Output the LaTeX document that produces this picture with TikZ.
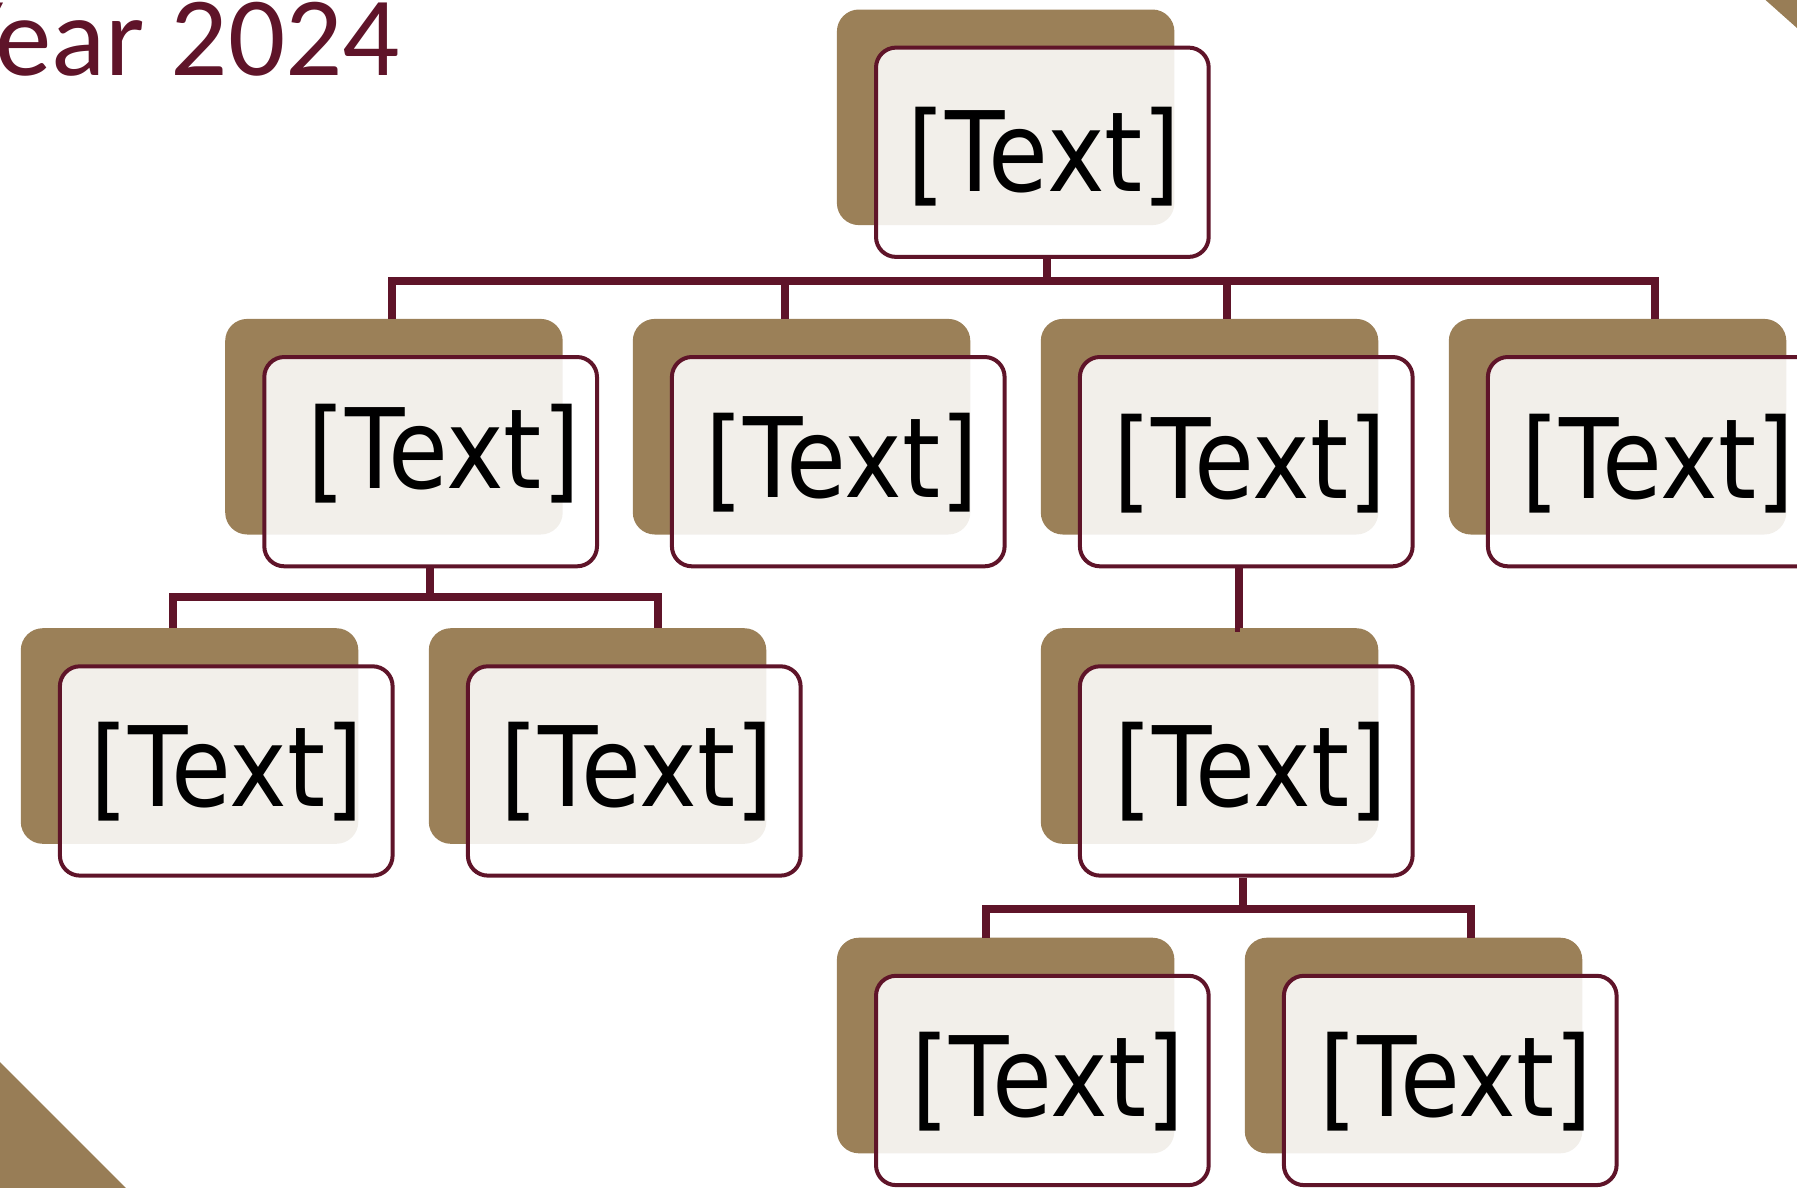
\documentclass[tikz,border=0pt]{standalone}
\usepackage{fontspec}
\usepackage{graphicx}
\usetikzlibrary{calc}
\newfontfamily\boxfont{DejaVu Sans}
\newfontfamily\titlefont{Carlito}
\definecolor{brownbox}{RGB}{155,128,88}
\definecolor{wine}{RGB}{95,20,41}
\definecolor{tri}{RGB}{152,125,86}
\tikzset{
  backbox/.style={rectangle, rounded corners=22pt, fill=brownbox, draw=none,
    minimum width=337.5pt, minimum height=215.6pt, inner sep=0pt, anchor=north west},
  frontbox/.style={rectangle, rounded corners=20pt, draw=wine, line width=4pt,
    fill=white, fill opacity=0.88, minimum width=332.7pt, minimum height=209.3pt, inner sep=0pt},
  boxtext/.style={anchor=base, inner sep=0pt, text=black,
    font=\boxfont\fontsize{111}{111}\selectfont},
  conn/.style={draw=wine, line width=8pt, line join=miter, line cap=butt},
  titletext/.style={anchor=base east, inner sep=0pt, text=wine,
    font=\titlefont\fontsize{113}{113}\selectfont},
}
\newcommand\orgbox[5]{%
  \node[backbox] (#1b) at (#2,#3) {};
  \node[frontbox] (#1w) at ($(#1b.north west)+(205.65,142.95)$) {};
  \node[boxtext] (#1t) at ($(#1w.center)+(#4,#5+34.8)$) {\scalebox{0.877}[1]{[Text]}};
}
\begin{document}
\begin{tikzpicture}[x=1pt,y=-1pt]
\useasboundingbox (0,0) rectangle (1797,1187);
% corner decorations
\fill[tri] (-2,1060) -- (127,1189) -- (-2,1189) -- cycle;
\fill[tri] (1763.3,-2) -- (1799,-2) -- (1799,29.8) -- cycle;
% title
\node[titletext] (title) at (400,75.7) {Year 2024};
% boxes
\orgbox{T}{836.7}{9.3}{2}{4}
\orgbox{A}{225}{318.7}{13}{-7.5}
\orgbox{B}{632.6}{318.7}{4}{1}
\orgbox{C}{1040.6}{318.7}{4}{2}
\orgbox{D}{1448.6}{318.7}{4}{2}
\orgbox{E}{20.6}{628}{1}{1}
\orgbox{F}{428.6}{628}{2.5}{1}
\orgbox{G}{1040.6}{628}{4.5}{1}
\orgbox{H}{836.7}{937.5}{5.5}{1}
\orgbox{I}{1244.6}{937.5}{5.5}{1}
% connector points
\coordinate (bus1) at (0,280.5);
\coordinate (bus2) at (0,596.5);
\coordinate (bus3) at (0,908.5);
\coordinate (tdrop) at ($(Tw.south)+(4.9,0)$);
\coordinate (dA) at ($(Ab.north west)+(167.3,0)$);
\coordinate (dB) at ($(Bb.north west)+(152.7,0)$);
\coordinate (dC) at ($(Cb.north west)+(185.9,0)$);
\coordinate (dD) at ($(Db.north west)+(206.1,0)$);
\coordinate (adrop) at ($(Aw.south)+(-1.1,0)$);
\coordinate (dE) at ($(Eb.north west)+(152.3,0)$);
\coordinate (dF) at ($(Fb.north west)+(229.7,0)$);
\coordinate (cdrop) at ($(Cw.south)+(-7.5,0)$);
\coordinate (dG) at ($(Gb.north west)+(198.2,0)$);
\coordinate (gdrop) at ($(Gw.south)+(-3.4,0)$);
\coordinate (dH) at ($(Hb.north west)+(149.5,0)$);
\coordinate (dI) at ($(Ib.north west)+(226.4,0)$);
% connectors
\draw[conn] (dA) |- (dD |- bus1) -- (dD);
\draw[conn] (tdrop) -- (tdrop |- bus1);
\draw[conn] (dB) -- (dB |- bus1);
\draw[conn] (dC) -- (dC |- bus1);
\draw[conn] (dE) |- (dF |- bus2) -- (dF);
\draw[conn] (adrop) -- (adrop |- bus2);
\draw[conn] (cdrop) -- (cdrop |- dG) -- (dG);
\draw[conn] (dH) |- (dI |- bus3) -- (dI);
\draw[conn] (gdrop) -- (gdrop |- bus3);
\end{tikzpicture}
\end{document}
